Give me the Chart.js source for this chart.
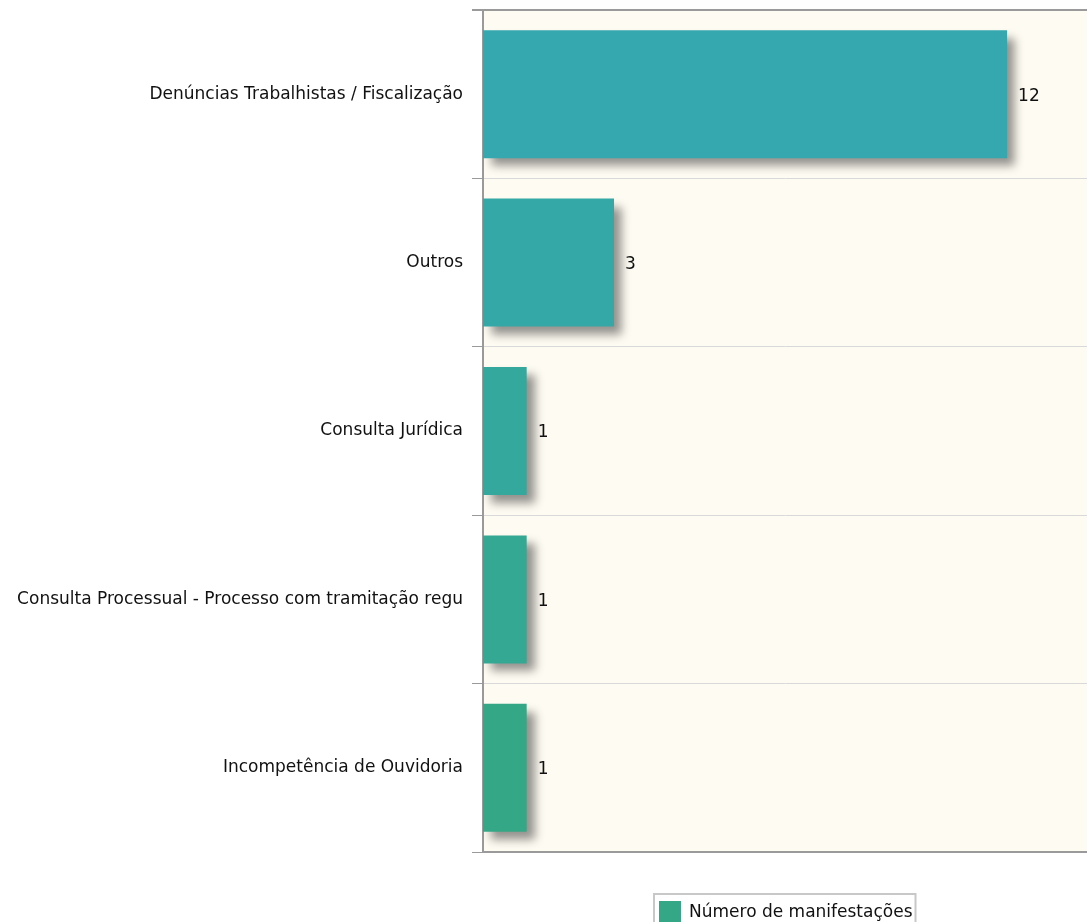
<!DOCTYPE html>
<html>
<head>
<meta charset="utf-8">
<script src="https://cdn.jsdelivr.net/npm/chart.js@4/dist/chart.umd.min.js"></script>
<style>
    html, body { margin: 0; padding: 0; background: #ffffff; }
    #wrap { width: 1087px; height: 922px; }
</style>
</head>
<body>
<div id="wrap"><canvas id="myChart" width="1087" height="922"></canvas></div>
<script>
let categories = [
    "Denúncias Trabalhistas / Fiscalização",
    "Outros",
    "Consulta Jurídica",
    "Consulta Processual - Processo com tramitação regu",
    "Incompetência de Ouvidoria"
];
let values = [12, 3, 1, 1, 1];
let barColors = ['#34a7af', '#34a8a6', '#34a89d', '#34a893', '#34a786'];
let seriesName = "Número de manifestações";
let fontFamily = "'DejaVu Sans', sans-serif";

// fundo creme da area do grafico
let plotBackground = {
    id: 'plotBackground',
    beforeDraw(chart) {
        let a = chart.chartArea;
        let ctx = chart.ctx;
        ctx.save();
        ctx.fillStyle = '#fefbf2';
        ctx.fillRect(a.left, a.top, a.right - a.left, a.bottom - a.top);
        ctx.restore();
    }
};

// sombra das barras
let barShadow = {
    id: 'barShadow',
    beforeDatasetDraw(chart) {
        let ctx = chart.ctx;
        ctx.save();
        ctx.shadowColor = 'rgba(0,0,0,0.42)';
        ctx.shadowBlur = 9;
        ctx.shadowOffsetX = 8;
        ctx.shadowOffsetY = 8;
    },
    afterDatasetDraw(chart) {
        chart.ctx.restore();
    }
};

// valores ao lado das barras + legenda
let valueLabels = {
    id: 'valueLabels',
    afterDraw(chart) {
        let ctx = chart.ctx;
        let meta = chart.getDatasetMeta(0);
        ctx.save();
        ctx.font = '17px ' + fontFamily;
        ctx.fillStyle = '#111';
        ctx.textBaseline = 'middle';
        ctx.textAlign = 'left';
        meta.data.forEach((bar, i) => {
            ctx.fillText(String(values[i]), bar.x + 11, bar.y + 2);
        });

        // legenda centrada na area do grafico
        let a = chart.chartArea;
        let cx = (a.left + a.right) / 2;
        let tw = ctx.measureText(seriesName).width;
        let boxW = 5 + 22 + 8 + tw + 3;
        let x0 = Math.round(cx - boxW / 2);
        let y0 = 894;
        ctx.strokeStyle = '#c8c8c8';
        ctx.lineWidth = 2;
        ctx.strokeRect(x0, y0, boxW, 40);
        ctx.fillStyle = barColors[4];
        ctx.fillRect(x0 + 5, y0 + 7, 22, 22);
        ctx.fillStyle = '#111';
        ctx.fillText(seriesName, x0 + 35, y0 + 19);
        ctx.restore();
    }
};

function gridColor(c) {
    if (c.index === 0 || c.index === categories.length) return '#9a9a9a';
    return '#d9d9d9';
}

function generateChart(id) {
    let ctx = document.getElementById(id).getContext('2d');
    return new Chart(ctx, {
        type: 'bar',
        data: {
            labels: categories,
            datasets: [{
                label: seriesName,
                data: values,
                backgroundColor: barColors,
                borderWidth: 0,
                barPercentage: 0.76,
                categoryPercentage: 1
            }]
        },
        options: {
            indexAxis: 'y',
            responsive: false,
            animation: false,
            layout: { padding: { top: 0, bottom: 70, left: 0, right: 0 } },
            plugins: {
                legend: { display: false },
                tooltip: { enabled: false }
            },
            scales: {
                x: {
                    min: 0,
                    max: 13.83,
                    ticks: { display: false },
                    grid: { display: false, drawTicks: false },
                    border: { display: true, color: '#9a9a9a', width: 2 }
                },
                y: {
                    afterFit(scale) {
                        scale.width = 483;
                        scale.paddingTop = 10;
                        scale.paddingBottom = 0;
                    },
                    ticks: {
                        color: '#111',
                        font: { family: fontFamily, size: 17 },
                        padding: 9
                    },
                    grid: {
                        offset: true,
                        color: gridColor,
                        lineWidth: c => (c.index === 0 ? 2 : 1),
                        tickColor: '#9a9a9a',
                        tickLength: 11
                    },
                    border: { display: true, color: '#9a9a9a', width: 2 }
                }
            }
        },
        plugins: [plotBackground, barShadow, valueLabels]
    });
}

generateChart('myChart');
</script>
</body>
</html>
